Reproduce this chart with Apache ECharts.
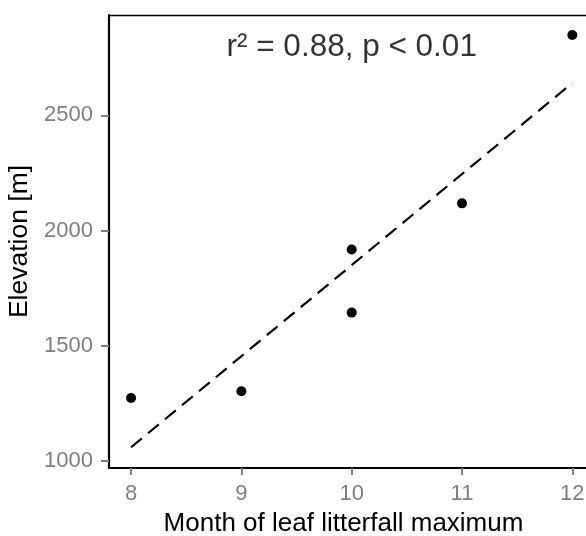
<!DOCTYPE html>
<html>
<head>
<meta charset="utf-8">
<script src="https://cdn.jsdelivr.net/npm/echarts@6/dist/echarts.min.js"></script>
<style>html,body{margin:0;padding:0;background:#fff;}#c{width:586px;height:536px;}</style>
</head>
<body>
<div id="c"></div>
<script>
const months = [8, 9, 10, 10, 11, 12];
const elevation = [1274, 1303, 1918, 1644, 2118, 2848];
const fitX = [8, 12];
const fitY = [1060, 2640];
const xTicks = [8, 9, 10, 11, 12];
const yTicks = [1000, 1500, 2000, 2500];
const annotation = { x: 10, y: 2796, text: 'r² = 0.88, p < 0.01' };

const font = 'Liberation Sans, Arial, Helvetica, sans-serif';
const chart = echarts.init(document.getElementById('c'), null, { renderer: 'canvas' });
chart.setOption({
  animation: false,
  backgroundColor: '#fff',
  grid: { left: 109, right: 0, top: 15, bottom: 68, show: false, containLabel: false, outerBoundsMode: 'none' },
  xAxis: [{
    type: 'value', min: 7.8, max: 12.124,
    name: 'Month of leaf litterfall maximum', nameLocation: 'middle', nameGap: 43,
    nameTextStyle: { fontFamily: font, fontSize: 26, color: '#000', padding: [0, 8, 0, 0] },
    axisLine: { show: true, onZero: false, lineStyle: { color: '#000', width: 2.2 } },
    axisTick: { show: true, length: 7, customValues: xTicks, lineStyle: { color: '#7f7f7f', width: 2 } },
    axisLabel: { customValues: xTicks, formatter: v => String(v), fontFamily: font, fontSize: 22, color: '#7f7f7f', margin: 15 },
    splitLine: { show: false }
  }, {
    type: 'value', min: 7.8, max: 12.124, position: 'top',
    axisLine: { show: true, onZero: false, lineStyle: { color: '#000', width: 1.4 } },
    axisTick: { show: false }, axisLabel: { show: false }, splitLine: { show: false }
  }],
  yAxis: {
    type: 'value', min: 970, max: 2935,
    name: 'Elevation [m]', nameLocation: 'middle', nameGap: 67, nameRotate: 90,
    nameTextStyle: { fontFamily: font, fontSize: 26.5, color: '#000' },
    axisLine: { show: true, onZero: false, lineStyle: { color: '#000', width: 2.2 } },
    axisTick: { show: true, length: 8, customValues: yTicks, lineStyle: { color: '#7f7f7f', width: 2 } },
    axisLabel: { customValues: yTicks, formatter: v => String(v), fontFamily: font, fontSize: 22, color: '#7f7f7f', margin: 16 },
    splitLine: { show: false }
  },
  series: [
    {
      type: 'line',
      data: fitX.map((x, i) => [x, fitY[i]]),
      symbol: 'none',
      lineStyle: { color: '#000', width: 2.2, type: [14, 8] },
      z: 2
    },
    {
      type: 'scatter',
      data: months.map((m, i) => [m, elevation[i]]),
      symbol: 'circle', symbolSize: 10,
      itemStyle: { color: '#000', opacity: 1 },
      z: 3
    },
    {
      type: 'scatter',
      data: [[annotation.x, annotation.y]],
      symbolSize: 0,
      silent: true,
      label: { show: true, position: 'inside', formatter: annotation.text, fontFamily: font, fontSize: 31.5, color: '#000' },
      z: 4
    }
  ]
});
</script>
</body>
</html>
